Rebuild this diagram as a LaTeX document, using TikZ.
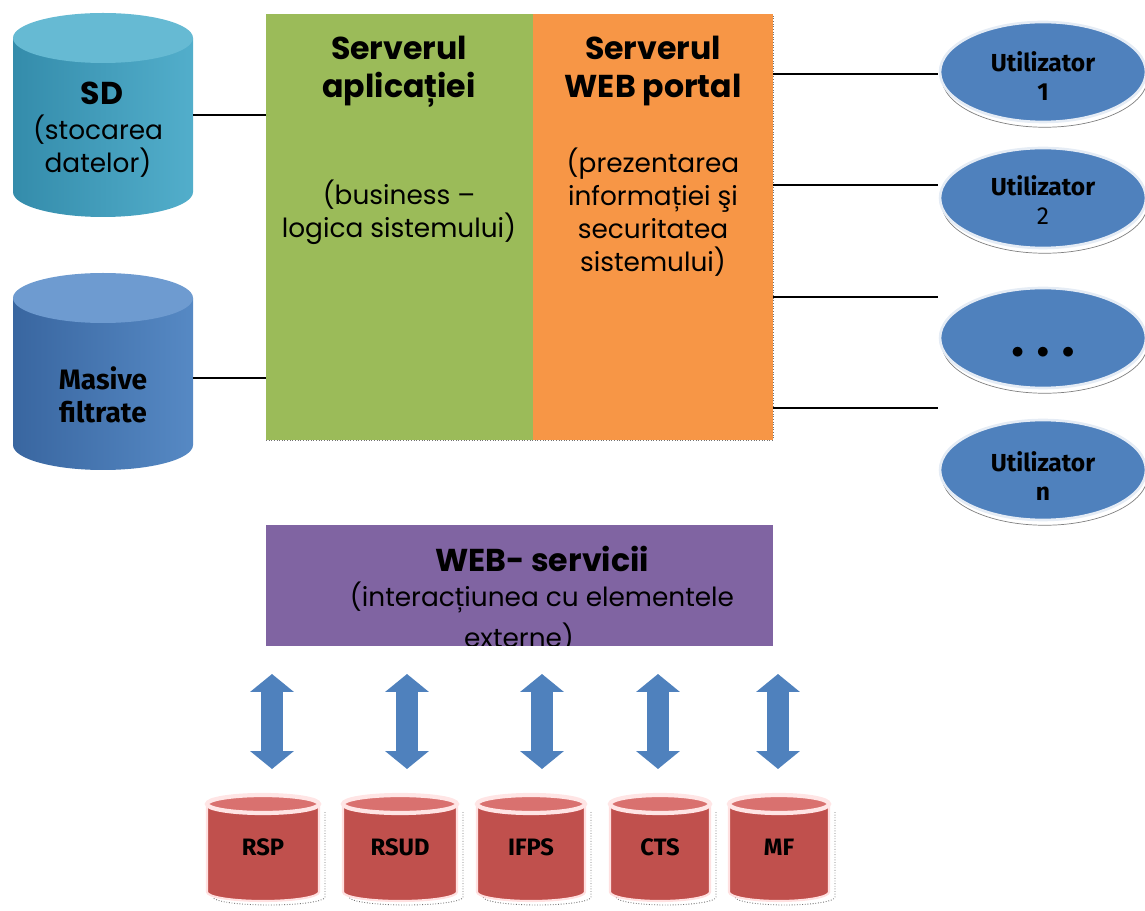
\documentclass[tikz,border=0pt]{standalone}
\usepackage{fontspec}
\setmainfont{Poppins}
\newfontfamily\heavyfont{Fira Sans}
\usepackage{tikz}
\usetikzlibrary{shapes.geometric}
\usetikzlibrary{arrows.meta}
\usetikzlibrary{shadows}
\usetikzlibrary{positioning}

\definecolor{appgreen}{HTML}{9BBB59}
\definecolor{portalorange}{HTML}{F79646}
\definecolor{wspurple}{HTML}{8064A2}
\definecolor{userblue}{HTML}{4F81BD}
\definecolor{sdleft}{HTML}{348CAB}
\definecolor{sdright}{HTML}{52AECB}
\definecolor{sdcap}{HTML}{66BAD3}
\definecolor{mfleft}{HTML}{3966A0}
\definecolor{mfright}{HTML}{5689C4}
\definecolor{mfcap}{HTML}{6E9BD0}
\definecolor{regred}{HTML}{C0504D}
\definecolor{regcap}{HTML}{D9716F}

\tikzset{panel/.style={rectangle,inner sep=0pt,outer sep=0pt}}
\tikzset{title/.style={font=\fontsize{18}{21.5}\selectfont\bfseries,align=center,inner sep=0pt}}
\tikzset{note/.style={font=\fontsize{15}{18.7}\selectfont,align=center,inner sep=0pt}}
\tikzset{heavy/.style={font=\heavyfont\fontsize{14}{17}\selectfont\bfseries,align=center,inner sep=0pt}}
\tikzset{link/.style={draw=black,line width=0.8pt}}
\tikzset{rim/.style={draw=black!55,densely dotted,line width=0.5pt}}
\tikzset{sdbody/.style={left color=sdleft,right color=sdright}}
\tikzset{mfbody/.style={left color=mfleft,right color=mfright}}
\tikzset{regbody/.style={fill=regred,draw=white!88!red,line width=1.2pt}}
\tikzset{user/.style={ellipse,fill=userblue,draw=white!85!userblue,line width=1.5pt,minimum width=4.12cm,minimum height=2cm,inner sep=0pt,
    drop shadow={shadow xshift=1pt,shadow yshift=-3pt,fill=white,draw=black!50,line width=0.4pt,opacity=1}}}
\tikzset{dblarrow/.style={draw=userblue,line width=0.44cm,{Triangle[width=0.86cm,length=0.36cm]}-{Triangle[width=0.86cm,length=0.36cm]}}}

% drum: x, top y, bottom y, half width, end radius, body style, cap style
\newcommand{\drum}[7]{%
  \path[#6] (#1-#4,#2) -- (#1-#4,#3) arc[start angle=180,end angle=360,x radius=#4*0.02cm,y radius=#5*0.02cm]
    -- (#1+#4,#2) -- cycle;
  \path[#7] (#1,#2) ellipse[x radius=#4*0.02cm,y radius=#5*0.02cm];
}

\begin{document}
\begin{tikzpicture}[x=0.02cm,y=-0.02cm]
\useasboundingbox (0,0) rectangle (1145,911);

% servers
\node[panel,fill=appgreen,minimum width=5.34cm,minimum height=8.52cm] (app) at (399.5,227) {};
\node[panel,fill=portalorange,minimum width=4.8cm,minimum height=8.52cm] (portal) at (653,227) {};
\draw[rim] (app.south west) -- (portal.south east) -- (portal.north east);
\node[title] (apptitle) at (399,72) {Serverul\\aplicației};
\node[note] (appnote) at (399,212) {(business --\\logica sistemului)};
\node[title] (portaltitle) at (653,71) {Serverul\\WEB portal};
\node[note] (portalnote) at (653,212) {(prezentarea\\informației şi\\securitatea\\sistemului)};

% storage
\drum{103}{38}{192}{90}{25}{sdbody}{fill=sdcap}
\node[panel,minimum width=3.6cm,minimum height=4.08cm] (sd) at (103,115) {};
\node[title] (sdname) at (102,93) {SD};
\node[note] (sdnote) at (98,146) {(stocarea\\datelor)};
\drum{103}{298}{445}{90}{25}{mfbody}{fill=mfcap}
\node[panel,minimum width=3.6cm,minimum height=3.8cm] (mf) at (103,378) {};
\node[heavy,font=\heavyfont\fontsize{16}{19}\selectfont\bfseries] (mfname) at (103,395) {Masive\\filtrate};
\draw[link] (sd.east) -- (sd.east -| app.west);
\draw[link] (mf.east) -- (mf.east -| app.west);

% users
\node[user] (u1) at (1043,72) {};
\node[user] (u2) at (1043,198) {};
\node[user] (u3) at (1043,338) {};
\node[user] (u4) at (1043,470) {};
\node[heavy] (u1name) at (1043,76) {Utilizator\\1};
\node[heavy] (u2name) at (1043,200) {Utilizator\\\mdseries 2};
\node[heavy,font=\fontsize{15}{15}\selectfont\bfseries] (u3name) at (1043,353) {$\bullet\;\bullet\;\bullet$};
\node[heavy] (u4name) at (1043,476) {Utilizator\\n};
\foreach \i/\y in {1/74,2/185,3/297,4/408} {
	\coordinate (c\i) at (938,\y);
	\draw[link] (portal.east |- c\i) -- (c\i);
}

% web services
\node[panel,fill=wspurple,minimum width=10.14cm,minimum height=2.42cm] (ws) at (519.5,585.5) {};
\begin{scope}
\clip (ws.south west) rectangle (ws.north east);
\node[title] (wsname) at (542,559) {WEB- servicii};
\node[note] (wsnote) at (542,597) {(interacțiunea cu elementele};
\node[note,anchor=base] (wsmore) at (519,647) {externe)};
\end{scope}

% external registers
\foreach \n/\x/\h/\txt in {1/263/56/RSP,2/400/57/RSUD,3/531/54/IFPS,4/660/50/CTS,5/779/50/MF} {
	\draw[rim] (\x+\h+6,812) -- (\x+\h+6,897) arc[start angle=0,end angle=-180,x radius=\h*0.02cm,y radius=8*0.02cm];
	\drum{\x}{804}{892}{\h}{9}{regbody}{fill=regcap,draw=white!90!red,line width=2.4pt}
	\node[panel,minimum width=\h*0.04cm,minimum height=2cm] (r\n) at (\x,850) {};
	\node[heavy,font=\heavyfont\fontsize{13.5}{16}\selectfont\bfseries] (r\n name) at (\x,847) {\txt};
}
\foreach \n/\x in {1/272,2/407,3/542,4/658,5/778} {
	\coordinate (up\n) at (\x,674);
	\coordinate (dn\n) at (\x,769);
	\draw[dblarrow] (up\n) -- (dn\n);
}
\end{tikzpicture}
\end{document}
